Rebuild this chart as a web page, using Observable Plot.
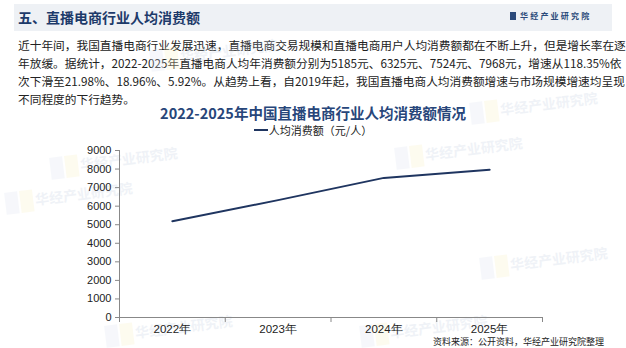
<!DOCTYPE html>
<html><head><meta charset="utf-8">
<script src="https://cdn.jsdelivr.net/npm/d3@7"></script>
<script src="https://cdn.jsdelivr.net/npm/@observablehq/plot@0.6"></script>
<style>
body{margin:0;background:#fff;width:626px;height:348px;overflow:hidden;position:relative;font-family:"Noto Sans CJK SC","Noto Sans",sans-serif;}
.abs{position:absolute;}
#band{left:14px;top:4px;width:598px;height:27px;background:#eef1f5;}
#head{left:18px;top:6px;font-size:14px;font-weight:bold;color:#1d3a6a;line-height:22px;}
#logo{left:510px;top:10px;font-size:8px;color:#2b4a7a;letter-spacing:2.2px;line-height:12px;font-weight:bold;}
#logo span{display:inline-block;width:6px;height:8px;background:#2b4a7a;margin-right:4px;vertical-align:-1px;}
.p{left:18px;width:588px;font-size:11.7px;color:#222;line-height:18px;white-space:nowrap;}
.j{text-align:justify;text-align-last:justify;}
#title{left:0;width:626px;top:103px;text-align:center;font-size:14.5px;font-weight:bold;color:#27467a;line-height:19px;}
#legend{left:0;width:626px;top:123px;text-align:center;font-size:11px;color:#222;line-height:15px;}
#legend i{display:inline-block;width:14px;height:2px;background:#1f3560;vertical-align:4px;margin-right:1px;}
#chart{left:0;top:140px;}
#src{left:433px;top:336px;font-size:9px;color:#222;line-height:11px;white-space:nowrap;}
.wm{position:absolute;font-size:14px;font-weight:bold;color:#c9d3e3;opacity:0.28;transform:rotate(-7deg);white-space:nowrap;}
.wm b{display:inline-block;width:13px;height:22px;background:#dfe6f2;margin-right:2px;vertical-align:-6px;}
.wm b+b{background:#fbf2c8;}
</style></head>
<body>
<div id="band" class="abs"></div>
<div id="head" class="abs"></div>
<div id="logo" class="abs"><span></span>华经产业研究院</div>
<div id="para"></div>
<div id="wms"></div>
<div id="title" class="abs"></div>
<div id="legend" class="abs"></div>
<div id="chart" class="abs"></div>
<div id="src" class="abs"></div>
<script>
const heading = "五、直播电商行业人均消费额";
const paragraphLines = [
  "近十年间，我国直播电商行业发展迅速，直播电商交易规模和直播电商用户人均消费额都在不断上升，但是增长率在逐",
  "年放缓。据统计，2022-2025年直播电商人均年消费额分别为5185元、6325元、7524元、7968元，增速从118.35%依",
  "次下滑至21.98%、18.96%、5.92%。从趋势上看，自2019年起，我国直播电商人均消费额增速与市场规模增速均呈现",
  "不同程度的下行趋势。"
];
const chartTitle = "2022-2025年中国直播电商行业人均消费额情况";
const seriesName = "人均消费额（元/人）";
const sourceText = "资料来源：公开资料，华经产业研究院整理";
const years = ["2022年", "2023年", "2024年", "2025年"];
const values = [5185, 6325, 7524, 7968];
const yTicks = [0, 1000, 2000, 3000, 4000, 5000, 6000, 7000, 8000, 9000];

document.getElementById("head").textContent = heading;
const para = document.getElementById("para");
paragraphLines.forEach((t, i) => {
  const d = document.createElement("div");
  d.className = "abs p" + (i < paragraphLines.length - 1 ? " j" : "");
  d.style.top = (36 + i * 18) + "px";
  d.textContent = t;
  para.appendChild(d);
});
document.getElementById("title").textContent = chartTitle;
document.getElementById("legend").innerHTML = "<i></i>" + seriesName;
document.getElementById("src").textContent = sourceText;

const wmPos = [[5,185],[150,42],[50,150],[395,140],[105,318],[360,318],[480,250],[470,95]];
const wms = document.getElementById("wms");
wmPos.forEach(([x,y]) => {
  const w = document.createElement("div");
  w.className = "wm";
  w.style.left = x + "px"; w.style.top = y + "px";
  w.innerHTML = "<b></b><b></b>华经产业研究院";
  wms.appendChild(w);
});

const data = years.map((y, i) => ({pos: i + 0.5, value: values[i], year: y}));

const chart = Plot.plot({
  width: 626,
  height: 200,
  marginTop: 10,
  marginBottom: 23,
  marginLeft: 119,
  marginRight: 84,
  style: {fontFamily: "'Liberation Sans', Arial, sans-serif", fontSize: "11px", color: "#222", background: "transparent"},
  x: {type: "linear", domain: [0, years.length]},
  y: {domain: [0, 9000]},
  marks: [
    Plot.axisY({ticks: yTicks, tickSize: 4, tickPadding: 4, label: null, tickFormat: d => String(d), stroke: "#888"}),
    Plot.ruleX([0], {stroke: "#888"}),
    Plot.axisX({ticks: d3.range(years.length + 1), tickSize: 5, tickFormat: () => "", label: null, stroke: "#888"}),
    Plot.axisX({ticks: data.map(d => d.pos), tickSize: 0, tickPadding: 7, tickFormat: d => years[Math.floor(d)], label: null, fontSize: 11.5}),
    Plot.ruleY([0], {stroke: "#888"}),
    Plot.line(data, {x: "pos", y: "value", stroke: "#1f3560", strokeWidth: 2})
  ]
});
document.getElementById("chart").appendChild(chart);
</script>
</body></html>
